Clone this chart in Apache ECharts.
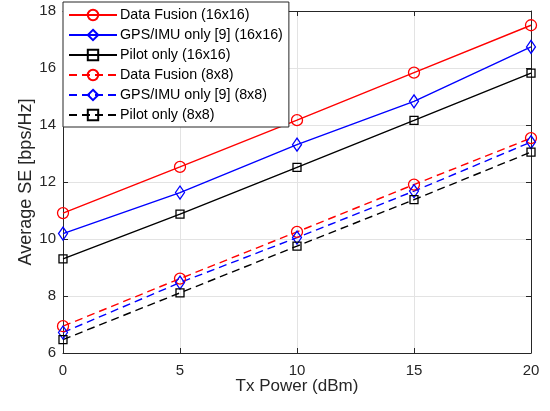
<!DOCTYPE html>
<html>
<head>
<meta charset="utf-8">
<script src="https://cdn.jsdelivr.net/npm/echarts@6/dist/echarts.min.js"></script>
<style>
html,body{margin:0;padding:0;background:#fff;}
#chart{width:550px;height:411px;}
</style>
</head>
<body>
<div id="chart"></div>
<script>
const txPower = [0, 5, 10, 15, 20];
const dataFusion16 = [10.91, 12.53, 14.17, 15.84, 17.50];
const gpsImu16 = [10.19, 11.63, 13.31, 14.83, 16.74];
const pilot16 = [9.30, 10.87, 12.51, 14.16, 15.82];
const dataFusion8 = [6.94, 8.61, 10.25, 11.91, 13.54];
const gpsImu8 = [6.72, 8.47, 10.05, 11.68, 13.40];
const pilot8 = [6.47, 8.11, 9.75, 11.38, 13.05];
const xTicks = [0, 5, 10, 15, 20];
const yTicks = [6, 8, 10, 12, 14, 16, 18];

const FONT = '"Liberation Sans", Arial, Helvetica, sans-serif';
const AX = '#262626';

function mk(name, data, color, symbol, size, dashed) {
  return {
    name: name,
    type: 'line',
    data: txPower.map((x, i) => [x, data[i]]),
    symbol: symbol,
    symbolSize: size,
    showAllSymbol: true,
    lineStyle: { color: color, width: 1.4, type: dashed ? [8, 5] : 'solid' },
    itemStyle: { color: 'rgba(255,255,255,0)', borderColor: color, borderWidth: 1.3 },
    emphasis: { disabled: true },
    animation: false,
    z: 3
  };
}

const chart = echarts.init(document.getElementById('chart'), null, { renderer: 'canvas' });
const gridBox = { left: 63, right: 19, top: 11, bottom: 58 };
chart.setOption({
  animation: false,
  backgroundColor: '#fff',
  grid: Object.assign({ show: false }, gridBox),
  legend: {
    orient: 'vertical',
    left: 63,
    top: 2,
    padding: [6, 6, 5, 5],
    itemWidth: 48,
    itemHeight: 13,
    itemGap: 6.0,
    backgroundColor: '#fff',
    borderColor: AX,
    borderWidth: 1,
    borderRadius: 0,
    textStyle: { fontFamily: FONT, fontSize: 14.3, color: '#000', padding: [0, 0, 0, -2] },
    z: 10
  },
  xAxis: [{
    type: 'value', min: 0, max: 20, interval: 5,
    name: 'Tx Power (dBm)', nameLocation: 'middle', nameGap: 25, nameMoveOverlap: false,
    nameTextStyle: { fontFamily: FONT, fontSize: 17, color: AX },
    axisLine: { show: true, lineStyle: { color: AX, width: 1 } },
    axisTick: { show: true, inside: true, length: 5, lineStyle: { color: AX } },
    axisLabel: { fontFamily: FONT, fontSize: 15, color: AX, margin: 10 },
    splitLine: { show: true, lineStyle: { color: '#e3e3e3', width: 1 } }
  }, {
    type: 'value', min: 0, max: 20, interval: 5, position: 'top',
    axisLine: { show: true, onZero: false, lineStyle: { color: AX, width: 1 } },
    axisTick: { show: true, inside: true, length: 5, lineStyle: { color: AX } },
    axisLabel: { show: false },
    splitLine: { show: false }
  }],
  yAxis: [{
    type: 'value', min: 6, max: 18, interval: 2,
    name: 'Average SE [bps/Hz]', nameLocation: 'middle', nameGap: 28, nameMoveOverlap: false,
    nameTextStyle: { fontFamily: FONT, fontSize: 18, color: AX },
    axisLine: { show: true, onZero: false, lineStyle: { color: AX, width: 1 } },
    axisTick: { show: true, inside: true, length: 5, lineStyle: { color: AX } },
    axisLabel: { fontFamily: FONT, fontSize: 15, color: AX, margin: 7 },
    splitLine: { show: true, lineStyle: { color: '#e3e3e3', width: 1 } }
  }, {
    type: 'value', min: 6, max: 18, interval: 2, position: 'right',
    axisLine: { show: true, onZero: false, lineStyle: { color: AX, width: 1 } },
    axisTick: { show: true, inside: true, length: 5, lineStyle: { color: AX } },
    axisLabel: { show: false },
    splitLine: { show: false }
  }],
  series: [
    mk('Data Fusion (16x16)', dataFusion16, '#ff0000', 'circle', 11, false),
    mk('GPS/IMU only [9] (16x16)', gpsImu16, '#0000ff', 'diamond', [9, 13], false),
    mk('Pilot only (16x16)', pilot16, '#000000', 'rect', 8, false),
    mk('Data Fusion (8x8)', dataFusion8, '#ff0000', 'circle', 11, true),
    mk('GPS/IMU only [9] (8x8)', gpsImu8, '#0000ff', 'diamond', [9, 13], true),
    mk('Pilot only (8x8)', pilot8, '#000000', 'rect', 8, true)
  ]
});
</script>
</body>
</html>
